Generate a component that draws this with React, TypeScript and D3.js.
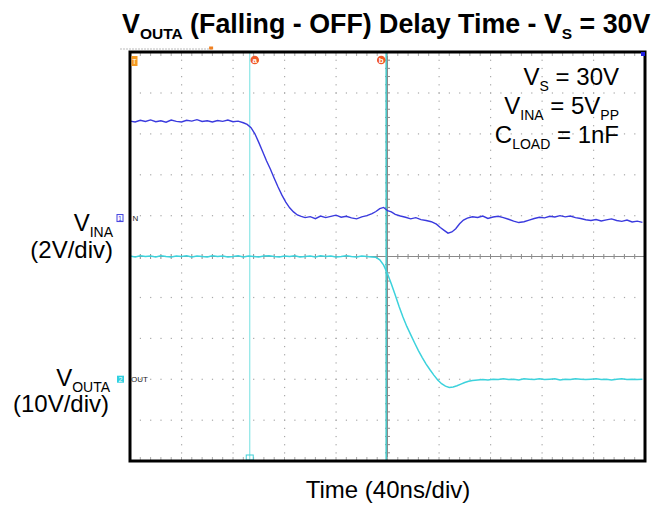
import React from "react";
import * as d3 from "d3";

// Time axis: 10 divisions x 40 ns
const timeDomain: [number, number] = [0, 400];
const divDomain: [number, number] = [-5, 5];

// Channel settings (V/div, ground position in divisions from centre)
const ch1Scale = 2;
const ch1Ground = 0.94;
const ch2Scale = 10;
const ch2Ground = -3.0;

// Cursor positions (ns)
const cursorTimes = [93, 199];
const cursorLabels = ["a", "b"];

// CH1: V_INA  [time ns, volts]
const ch1Points: [number, number][] = [
  [0, 4.74], [4, 4.7], [8, 4.78], [12, 4.72], [16, 4.8], [20, 4.71], [24, 4.76], [28, 4.69],
  [32, 4.79], [36, 4.73], [40, 4.7], [44, 4.78], [48, 4.74], [52, 4.81], [56, 4.72], [60, 4.76],
  [64, 4.7], [68, 4.77], [72, 4.73], [76, 4.79], [80, 4.71], [84, 4.74], [88, 4.66], [91, 4.58],
  [94, 4.42], [97, 4.12], [100, 3.7], [103, 3.25], [106, 2.8], [109, 2.4], [112, 1.95], [115, 1.52],
  [118, 1.12], [121, 0.78], [124, 0.5], [127, 0.3], [130, 0.15], [133, 0.08], [136, 0.02], [140, 0.07],
  [144, -0.03], [148, 0.1], [152, 0.02], [156, 0.08], [160, 0.14], [164, 0.04], [168, 0.09], [172, 0.01],
  [176, -0.04], [180, 0.06], [184, 0.12], [188, 0.22], [191, 0.32], [194, 0.46], [197, 0.52], [200, 0.36],
  [203, 0.3], [206, 0.18], [210, 0.1], [214, 0.04], [218, -0.04], [222, 0.02], [226, -0.08], [230, -0.12],
  [234, -0.18], [238, -0.3], [241, -0.46], [244, -0.6], [247, -0.74], [250, -0.68], [253, -0.52], [256, -0.28],
  [259, -0.1], [262, 0.0], [266, 0.06], [270, 0.03], [274, 0.1], [278, -0.02], [282, 0.05], [286, 0.09],
  [290, 0.02], [294, -0.06], [298, -0.15], [302, -0.22], [306, -0.18], [310, -0.1], [314, -0.02], [318, 0.04],
  [322, 0.01], [326, 0.09], [330, 0.05], [334, 0.12], [338, 0.06], [342, 0.1], [346, 0.02], [350, -0.02],
  [354, -0.08], [358, -0.12], [362, -0.07], [366, -0.14], [370, -0.09], [374, -0.04], [378, -0.12], [382, -0.16],
  [386, -0.1], [390, -0.19], [394, -0.15], [398, -0.21],
];

// CH2: V_OUTA  [time ns, volts]
const ch2Points: [number, number][] = [
  [0, 30.1], [4, 29.9], [8, 30.2], [12, 30.0], [16, 30.1], [20, 29.9], [24, 30.2], [28, 30.0],
  [32, 29.9], [36, 30.1], [40, 30.0], [44, 30.2], [48, 29.9], [52, 30.1], [56, 30.0], [60, 29.9],
  [64, 30.2], [68, 30.0], [72, 30.1], [76, 29.9], [80, 30.0], [84, 30.2], [88, 29.9], [92, 30.1],
  [96, 30.0], [100, 29.9], [104, 30.1], [108, 30.2], [112, 30.0], [116, 29.9], [120, 30.1], [124, 30.0],
  [128, 30.2], [132, 29.9], [136, 30.0], [140, 30.1], [144, 29.9], [148, 30.2], [152, 30.0], [156, 30.1],
  [160, 29.9], [164, 30.0], [168, 30.2], [172, 30.0], [176, 29.9], [180, 30.1], [184, 30.0], [188, 29.9],
  [191, 29.8], [194, 29.2], [197, 27.9], [200, 25.8], [203, 23.3], [206, 20.6], [209, 17.8], [212, 15.2],
  [215, 12.9], [218, 10.9], [221, 8.9], [224, 7.0], [227, 5.3], [230, 3.7], [233, 2.3], [236, 1.0],
  [239, -0.2], [242, -1.1], [245, -1.7], [248, -2.0], [251, -1.9], [254, -1.6], [257, -1.2], [260, -0.8],
  [263, -0.5], [266, -0.3], [270, -0.2], [274, -0.1], [278, -0.2], [282, 0.0], [286, -0.1], [290, 0.1],
  [294, -0.1], [298, 0.0], [302, -0.2], [306, 0.1], [310, 0.0], [314, -0.1], [318, 0.1], [322, -0.1],
  [326, 0.0], [330, 0.1], [334, -0.2], [338, 0.0], [342, -0.1], [346, 0.1], [350, 0.0], [354, -0.1],
  [358, 0.0], [362, 0.1], [366, -0.1], [370, 0.0], [374, -0.2], [378, 0.0], [382, 0.1], [386, -0.1],
  [390, 0.0], [394, -0.1], [398, 0.0],
];

const W = 668;
const H = 508;
const plot = { left: 130, right: 645, top: 52, bottom: 461 };

export default function App() {
  const x = d3.scaleLinear().domain(timeDomain).range([plot.left, plot.right]);
  const y = d3.scaleLinear().domain(divDomain).range([plot.bottom, plot.top]);

  const ch1Line = d3
    .line<[number, number]>()
    .x((d) => x(d[0]))
    .y((d) => y(ch1Ground + d[1] / ch1Scale));
  const ch2Line = d3
    .line<[number, number]>()
    .x((d) => x(d[0]))
    .y((d) => y(ch2Ground + d[1] / ch2Scale));

  const majorT = d3.range(timeDomain[0], timeDomain[1] + 0.1, 40);
  const minorT = d3.range(timeDomain[0], timeDomain[1] + 0.1, 8);
  const majorD = d3.range(divDomain[0], divDomain[1] + 0.01, 1);
  const minorD = d3.range(divDomain[0], divDomain[1] + 0.01, 0.2);

  const dotColor = "#a8a8a8";
  const cx = x(200);
  const cy = y(0);

  const font = "'Liberation Sans', Arial, sans-serif";

  return (
    <svg
      width={W}
      height={H}
      style={{ position: "fixed", left: 0, top: 0, display: "block", background: "#fff" }}
      fontFamily={font}
    >
      <rect x={0} y={0} width={W} height={H} fill="#fff" />

      {/* Title */}
      <text x={122} y={33} fontSize={26.8} fontWeight="bold" fill="#000">
        V<tspan fontSize={15.5} dy={6}>OUTA</tspan>
        <tspan dy={-6}> (Falling - OFF) Delay Time - V</tspan>
        <tspan fontSize={15.5} dy={6}>S</tspan>
        <tspan dy={-6}> = 30V</tspan>
      </text>

      {/* record indicator above frame */}
      <line x1={120} x2={212} y1={49} y2={49} stroke="#bbb" strokeWidth={1} strokeDasharray="2,1" />
      <rect x={x(63) - 2} y={46.5} width={4} height={3} fill="#f08020" />

      {/* Grid dots */}
      <g>
        {majorT.slice(1, -1).map((t) =>
          t === 200
            ? null
            : minorD.map((dv) => (
                <rect key={`v${t}-${dv}`} x={x(t) - 0.5} y={y(dv) - 0.5} width={1.2} height={1.2} fill={dotColor} />
              ))
        )}
        {majorD.slice(1, -1).map((dv) =>
          dv === 0
            ? null
            : minorT.map((t) => (
                <rect key={`h${dv}-${t}`} x={x(t) - 0.5} y={y(dv) - 0.5} width={1.2} height={1.2} fill={dotColor} />
              ))
        )}
      </g>

      {/* Centre axes with ticks */}
      <line x1={plot.left} x2={plot.right} y1={cy} y2={cy} stroke="#8a8a8a" strokeWidth={1} />
      <line x1={cx} x2={cx} y1={plot.top} y2={plot.bottom} stroke="#8a8a8a" strokeWidth={1} />
      {minorT.map((t) => (
        <line key={`ct${t}`} x1={x(t)} x2={x(t)} y1={cy - 2.5} y2={cy + 2.5} stroke="#8a8a8a" strokeWidth={1} />
      ))}
      {minorD.map((dv) => (
        <line key={`cd${dv}`} x1={cx - 2.5} x2={cx + 2.5} y1={y(dv)} y2={y(dv)} stroke="#8a8a8a" strokeWidth={1} />
      ))}
      {/* edge ticks */}
      {minorT.map((t) => (
        <g key={`et${t}`}>
          <line x1={x(t)} x2={x(t)} y1={plot.top + 1} y2={plot.top + 4} stroke="#aaa" strokeWidth={1} />
          <line x1={x(t)} x2={x(t)} y1={plot.bottom - 4} y2={plot.bottom - 1} stroke="#aaa" strokeWidth={1} />
        </g>
      ))}

      {/* Cursors */}
      {cursorTimes.map((t, i) => (
        <line
          key={`cur${i}`}
          x1={x(t)}
          x2={x(t)}
          y1={plot.top}
          y2={plot.bottom}
          stroke={i === 0 ? "#8ae6e6" : "#4cc8c8"}
          strokeWidth={i === 0 ? 1.2 : 1.6}
        />
      ))}
      {cursorTimes.map((t, i) => (
        <g key={`cl${i}`}>
          <circle cx={x(t) + (i === 0 ? 5 : -5)} cy={60} r={4.3} fill="#f05a28" />
          <text
            x={x(t) + (i === 0 ? 5 : -5)}
            y={63}
            fontSize={8}
            fontWeight="bold"
            textAnchor="middle"
            fill="#fff"
          >
            {cursorLabels[i]}
          </text>
        </g>
      ))}
      <rect x={x(cursorTimes[0]) - 3.5} y={455} width={7} height={5} fill="none" stroke="#40d0d8" strokeWidth={1} />

      {/* Traces */}
      <path d={ch2Line(ch2Points) ?? ""} fill="none" stroke="#3cd2dc" strokeWidth={1.5} />
      <path d={ch1Line(ch1Points) ?? ""} fill="none" stroke="#3a3ade" strokeWidth={1.4} />

      {/* Frame */}
      <rect
        x={plot.left}
        y={plot.top}
        width={plot.right - plot.left}
        height={plot.bottom - plot.top}
        fill="none"
        stroke="#000"
        strokeWidth={3}
      />

      {/* trigger marker top-left */}
      <rect x={131.5} y={56} width={6} height={10} fill="#f59a20" />
      <text x={134.5} y={64} fontSize={7} textAnchor="middle" fill="#fff">T</text>
      <rect x={641} y={52} width={4} height={4} fill="#2020e0" />

      {/* Channel ground markers */}
      <rect x={117} y={y(ch1Ground) - 3.5} width={6} height={7} fill="none" stroke="#4040e0" strokeWidth={1} />
      <text x={120} y={y(ch1Ground) + 2.5} fontSize={7} textAnchor="middle" fill="#4040e0">1</text>
      <text x={132.5} y={y(ch1Ground) + 3} fontSize={8} fill="#222">N</text>
      <rect x={117} y={y(ch2Ground) - 3.5} width={7} height={7} fill="#30d0e0" />
      <text x={120.5} y={y(ch2Ground) + 2.5} fontSize={7} textAnchor="middle" fill="#fff">2</text>
      <text x={131} y={y(ch2Ground) + 3} fontSize={8} fill="#222">OUT</text>

      {/* Annotations */}
      <g fontSize={24} fill="#000" textAnchor="end">
        <text x={619} y={85}>
          V<tspan fontSize={14} dy={6}>S</tspan>
          <tspan dy={-6}> = 30V</tspan>
        </text>
        <text x={619} y={114}>
          V<tspan fontSize={14} dy={6}>INA</tspan>
          <tspan dy={-6}> = 5V</tspan>
          <tspan fontSize={14} dy={6}>PP</tspan>
        </text>
        <text x={619} y={143}>
          C<tspan fontSize={14} dy={6}>LOAD</tspan>
          <tspan dy={-6}> = 1nF</tspan>
        </text>
      </g>

      {/* Left channel labels */}
      <g fontSize={24} fill="#000" textAnchor="end">
        <text x={113} y={231}>
          V<tspan fontSize={14} dy={6}>INA</tspan>
        </text>
        <text x={113} y={258}>(2V/div)</text>
        <text x={110} y={386}>
          V<tspan fontSize={14} dy={6}>OUTA</tspan>
        </text>
        <text x={109} y={412}>(10V/div)</text>
      </g>

      {/* X label */}
      <text x={388} y={498} fontSize={24} textAnchor="middle" fill="#000">
        Time (40ns/div)
      </text>
    </svg>
  );
}
